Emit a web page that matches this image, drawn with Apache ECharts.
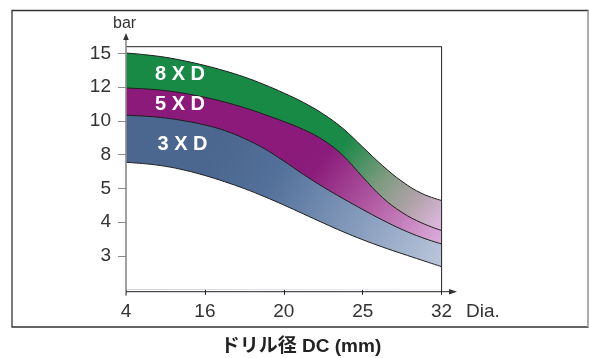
<!DOCTYPE html>
<html>
<head>
<meta charset="utf-8">
<script src="https://cdn.jsdelivr.net/npm/echarts@6/dist/echarts.min.js"></script>
<style>
html,body{margin:0;padding:0;background:#fff;}
#main{width:589px;height:358px;}
</style>
</head>
<body>
<div id="main"></div>
<script>
// X categories (evenly spaced drill diameters) and Y tick labels (evenly spaced pressure levels)
const xLabels = ['4', '16', '20', '25', '32'];
const yLabels = ['3', '4', '5', '8', '10', '12', '15'];
// sample positions along the x axis (index space of xLabels)
const xPos = [0, 0.25, 0.5, 0.75, 1, 1.25, 1.5, 1.75, 2, 2.25, 2.5, 2.75, 3, 3.25, 3.5, 3.75, 4];
// boundary curves (index space of yLabels: 1 = "3", 7 = "15")
const lower3 = [3.774, 3.730, 3.656, 3.538, 3.384, 3.200, 2.996, 2.762, 2.510, 2.244, 1.978, 1.720, 1.483, 1.267, 1.069, 0.876, 0.684];
const top3   = [5.166, 5.139, 5.086, 4.997, 4.879, 4.716, 4.479, 4.183, 3.813, 3.413, 3.043, 2.703, 2.377, 2.066, 1.785, 1.548, 1.356];
const top5   = [5.974, 5.947, 5.897, 5.811, 5.699, 5.559, 5.391, 5.195, 4.982, 4.745, 4.435, 3.976, 3.339, 2.732, 2.288, 1.978, 1.755];
const top8   = [7.010, 6.957, 6.883, 6.773, 6.640, 6.483, 6.300, 6.078, 5.826, 5.545, 5.204, 4.775, 4.227, 3.679, 3.206, 2.851, 2.644];
const bandNames = ['3 X D', '5 X D', '8 X D'];

const G = {left: 126, right: 441.6, top: 46.7, bottom: 291.7};
const chart = echarts.init(document.getElementById('main'), null, {renderer: 'canvas'});

const pts = arr => xPos.map((x, i) => [x, arr[i]]);

function grad(x1, y1, x2, y2, stops) {
  return new echarts.graphic.LinearGradient(x1, y1, x2, y2,
    stops.map(s => ({offset: s[0], color: s[1]})), true);
}
const blueFill = grad(220, 140, 445, 275, [[0, '#4b668f'], [0.25, '#52709a'], [0.65, '#8ba0c0'], [1, '#bfcade']]);
const purpleFill = grad(300, 130, 445, 240, [[0, '#8b1a7a'], [0.2, '#8b1c7b'], [0.6, '#b562a7'], [1, '#dcb0dc']]);
const greenFill = grad(320, 120, 445, 215, [[0, '#188a46'], [0.22, '#1b8a48'], [0.55, '#7e9b80'], [0.8, '#b3a3ab'], [1, '#d9b6da']]);

const SM = 0.4;
// each band = area under its upper boundary, painted bottom-up in z order; white covers below 3XD
const fillS = (arr, color, z) => ({type: 'line', smooth: SM, symbol: 'none', silent: true, z: z,
  data: pts(arr), lineStyle: {width: 0}, areaStyle: {color: color, opacity: 1}});
const edge = arr => ({type: 'line', smooth: SM, symbol: 'none', silent: true, z: 6,
  data: pts(arr), lineStyle: {color: '#1e1e1e', width: 1}});

const txt = 'Liberation Sans, Arial, sans-serif';

chart.setOption({
  animation: false,
  backgroundColor: '#fff',
  grid: {left: G.left, right: 589 - G.right, top: G.top, bottom: 358 - G.bottom, containLabel: false},
  xAxis: {
    type: 'value', min: 0, max: 4, interval: 1,
    axisLine: {show: false},
    axisTick: {show: true, length: 5, lineStyle: {color: '#222', width: 1}},
    axisLabel: {margin: 11, fontSize: 19, color: '#333', fontFamily: txt,
      formatter: v => xLabels[Math.round(v)] ?? ''},
    splitLine: {show: false}
  },
  yAxis: {
    type: 'value', min: -0.056, max: 7.197,
    axisLine: {show: false},
    axisTick: {show: true, length: 8, customValues: [1, 2, 3, 4, 5, 6, 7], lineStyle: {color: '#8a8a8a', width: 1}},
    axisLabel: {margin: 15, fontSize: 19, color: '#333', fontFamily: txt,
      customValues: [1, 2, 3, 4, 5, 6, 7],
      formatter: v => yLabels[Math.round(v) - 1] ?? ''},
    splitLine: {show: false}
  },
  series: [
    Object.assign(fillS(top8, greenFill, 1), {name: bandNames[2]}),
    Object.assign(fillS(top5, purpleFill, 2), {name: bandNames[1]}),
    Object.assign(fillS(top3, blueFill, 3), {name: bandNames[0]}),
    fillS(lower3, '#ffffff', 4),
    edge(lower3), edge(top3), edge(top5), edge(top8)
  ],
  graphic: [
    // outer frame
    {type: 'rect', shape: {x: 12, y: 10.5, width: 576, height: 316.5}, style: {fill: 'none', stroke: '#333', lineWidth: 1.3}, z: 1},
    {type: 'line', shape: {x1: 588, y1: 10.5, x2: 588, y2: 327}, style: {stroke: '#bdbdbd', lineWidth: 1.5}, z: 2},
    // plot top & right border
    {type: 'line', shape: {x1: G.left, y1: G.top, x2: G.right, y2: G.top}, style: {stroke: '#222', lineWidth: 1}, z: 10},
    {type: 'line', shape: {x1: G.right, y1: G.top, x2: G.right, y2: G.bottom}, style: {stroke: '#222', lineWidth: 1}, z: 10},
    // y axis with arrow
    {type: 'line', shape: {x1: G.left, y1: G.bottom + 4, x2: G.left, y2: 37}, style: {stroke: '#8a8a8a', lineWidth: 1.6}, z: 10},
    {type: 'polygon', shape: {points: [[G.left, 33], [G.left - 2.8, 40], [G.left + 2.8, 40]]}, style: {fill: '#333'}, z: 10},
    // x axis with arrow
    {type: 'line', shape: {x1: G.left, y1: G.bottom, x2: 452, y2: G.bottom}, style: {stroke: '#222', lineWidth: 1}, z: 10},
    {type: 'polygon', shape: {points: [[457, G.bottom], [449, G.bottom - 2.8], [449, G.bottom + 2.8]]}, style: {fill: '#333'}, z: 10},
    // axis names
    {type: 'text', left: 113, top: 16, style: {text: 'bar', fontSize: 16, fill: '#333', fontFamily: txt}, z: 10},
    {type: 'text', left: 466, top: 302, style: {text: 'Dia.', fontSize: 19, fill: '#333', fontFamily: txt}, z: 10},
    // band labels
    {type: 'text', x: 180, y: 74, style: {text: bandNames[2], fontSize: 20, fontWeight: 'bold', fill: '#fff', fontFamily: txt, align: 'center', verticalAlign: 'middle'}, z: 10},
    {type: 'text', x: 180, y: 104, style: {text: bandNames[1], fontSize: 20, fontWeight: 'bold', fill: '#fff', fontFamily: txt, align: 'center', verticalAlign: 'middle'}, z: 10},
    {type: 'text', x: 182.5, y: 144, style: {text: bandNames[0], fontSize: 20, fontWeight: 'bold', fill: '#fff', fontFamily: txt, align: 'center', verticalAlign: 'middle'}, z: 10},
    // title
    {type: 'text', x: 301, y: 347, style: {text: 'ドリル径 DC (mm)', fontSize: 19, fontWeight: 'bold', fill: '#222', fontFamily: 'Liberation Sans, Noto Sans CJK JP, sans-serif', align: 'center', verticalAlign: 'middle'}, z: 10}
  ]
});
</script>
</body>
</html>
